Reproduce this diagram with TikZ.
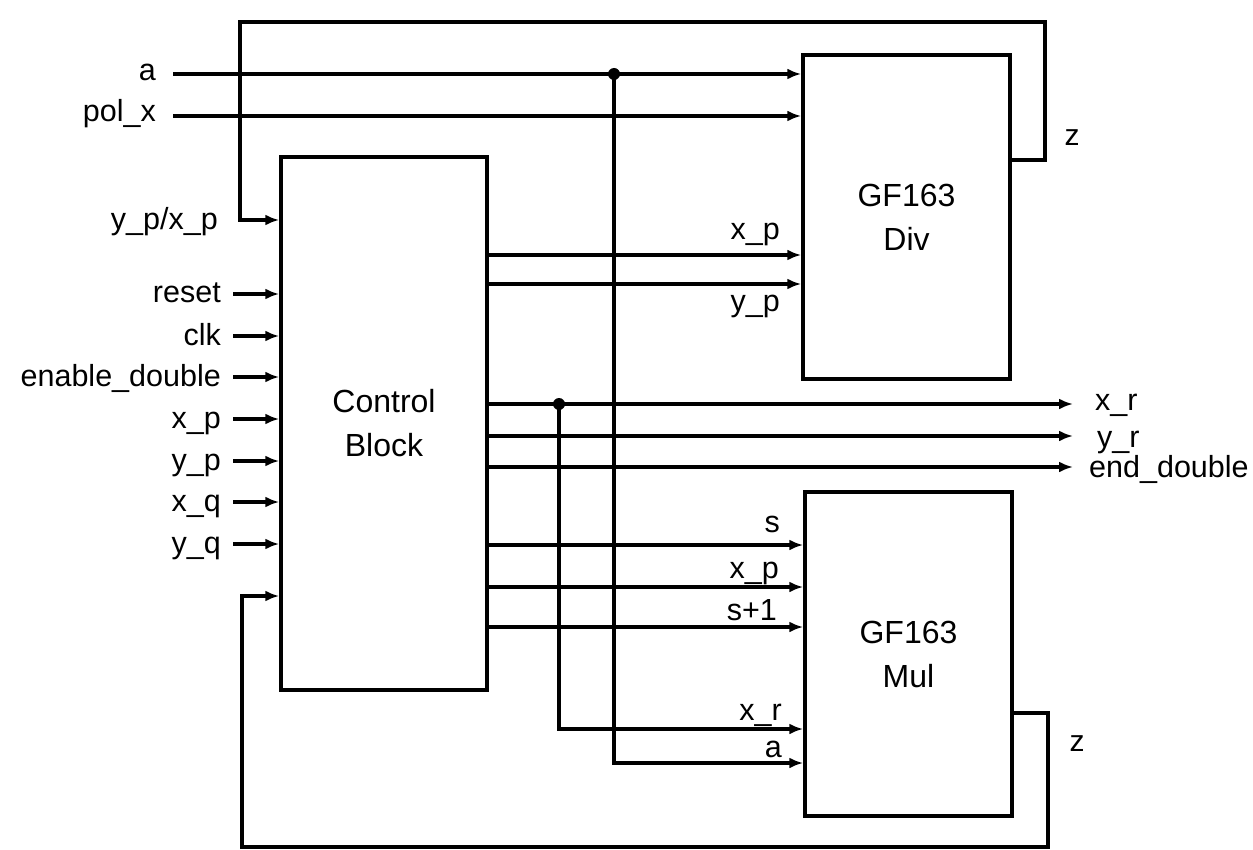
\documentclass[tikz,border=0pt]{standalone}
\usepackage{fontspec}
\setmainfont{Liberation Sans}
\usetikzlibrary{arrows.meta,calc}
\begin{document}
\begin{tikzpicture}[x=1pt,y=-1pt,
  wire/.style={line width=3.5pt},
  arr/.style={line width=3.5pt,-{Latex[length=14pt,width=11pt]}},
  blk/.style={draw,line width=3.5pt,inner sep=0pt,align=center,font=\fontsize{32}{44}\selectfont},
  lbl/.style={inner sep=0pt,font=\fontsize{30.5}{33}\selectfont},
  zlbl/.style={inner sep=0pt,font=\fontsize{30}{33}\selectfont},
  jdot/.style={circle,fill,inner sep=0pt,minimum size=12pt}]
\useasboundingbox (0,0) rectangle (1253,850);
\fill[white] (0,0) rectangle (1253,850);

% blocks
\node[blk,minimum width=206pt,minimum height=533pt] (ctrl) at (384,423.5) {Control\\Block};
\node[blk,minimum width=207pt,minimum height=324pt] (div) at (906.5,217) {GF163\\Div};
\node[blk,minimum width=207pt,minimum height=324pt] (mul) at (908.5,654) {GF163\\Mul};

% wire reference coordinates
\coordinate (wa) at (173,74);
\coordinate (wpol) at (173,116);
\coordinate (ja) at (614,74);
\coordinate (jam) at (614,763);
\coordinate (wdx) at (600,255);
\coordinate (wdy) at (600,284);
\coordinate (oxr) at (1073,404);
\coordinate (oyr) at (1073,436);
\coordinate (oend) at (1073,467);
\coordinate (jxr) at (559,404);
\coordinate (jxrm) at (559,729);
\coordinate (ws) at (600,545);
\coordinate (wmx) at (600,587);
\coordinate (ws1) at (600,627);

% top inputs
\node[lbl,anchor=base east] (la) at (156,81) {a};
\node[lbl,anchor=base east] (lpol) at (156,122) {pol\_x};
\draw[arr] (wa) -- (wa -| div.west);
\draw[arr] (wpol) -- (wpol -| div.west);
\node[jdot] (da) at (ja) {};
\draw[arr] (da.center) -- (jam) -- (jam -| mul.west);
\node[lbl,anchor=base east] (lma) at (782,757) {a};

% div feedback z -> control
\coordinate (zd1) at (1045,160);
\coordinate (zd2) at (1045,22);
\coordinate (zd3) at (240,22);
\coordinate (zd4) at (240,220);
\draw[arr] (zd1 -| div.east) -- (zd1) -- (zd2) -- (zd3) -- (zd4) -- (zd4 -| ctrl.west);
\node[zlbl,anchor=base] (zdl) at (1072,146) {z};
\node[lbl,anchor=base east] (lyx) at (218,230) {y\_p/x\_p};

% left inputs
\foreach \nm/\yy in {reset/294,clk/336,enable\_double/377,x\_p/419,y\_p/461,x\_q/502,y\_q/544}{
  \coordinate (in) at (233,\yy);
  \node[lbl,anchor=base east] at ($(in)+(-12,9)$) {\nm};
  \draw[arr] (in) -- (in -| ctrl.west);
}

% control -> div
\draw[arr] (wdx -| ctrl.east) -- (wdx -| div.west);
\draw[arr] (wdy -| ctrl.east) -- (wdy -| div.west);
\node[lbl,anchor=base east] (ldx) at (780,240) {x\_p};
\node[lbl,anchor=base east] (ldy) at (780,312) {y\_p};

% outputs
\draw[arr] (oxr -| ctrl.east) -- (oxr);
\draw[arr] (oyr -| ctrl.east) -- (oyr);
\draw[arr] (oend -| ctrl.east) -- (oend);
\node[lbl,anchor=base west] (lxr) at (1095,410) {x\_r};
\node[lbl,anchor=base west] (lyr) at (1097,447) {y\_r};
\node[lbl,anchor=base west] (lend) at (1089,477) {end\_double};
\node[jdot] (dxr) at (jxr) {};
\draw[arr] (dxr.center) -- (jxrm) -- (jxrm -| mul.west);
\node[lbl,anchor=base east] (lmxr) at (782,720) {x\_r};

% control -> mul
\draw[arr] (ws -| ctrl.east) -- (ws -| mul.west);
\draw[arr] (wmx -| ctrl.east) -- (wmx -| mul.west);
\draw[arr] (ws1 -| ctrl.east) -- (ws1 -| mul.west);
\node[lbl,anchor=base east] (ls) at (780,532) {s};
\node[lbl,anchor=base east] (lmx) at (779,578) {x\_p};
\node[lbl,anchor=base east] (ls1) at (777,620) {s+1};

% mul feedback z -> control
\coordinate (zm1) at (1048,713);
\coordinate (zm2) at (1048,847);
\coordinate (zm3) at (242,847);
\coordinate (zm4) at (242,596);
\draw[arr] (zm1 -| mul.east) -- (zm1) -- (zm2) -- (zm3) -- (zm4) -- (zm4 -| ctrl.west);
\node[zlbl,anchor=base] (zml) at (1077,751) {z};
\end{tikzpicture}
\end{document}
